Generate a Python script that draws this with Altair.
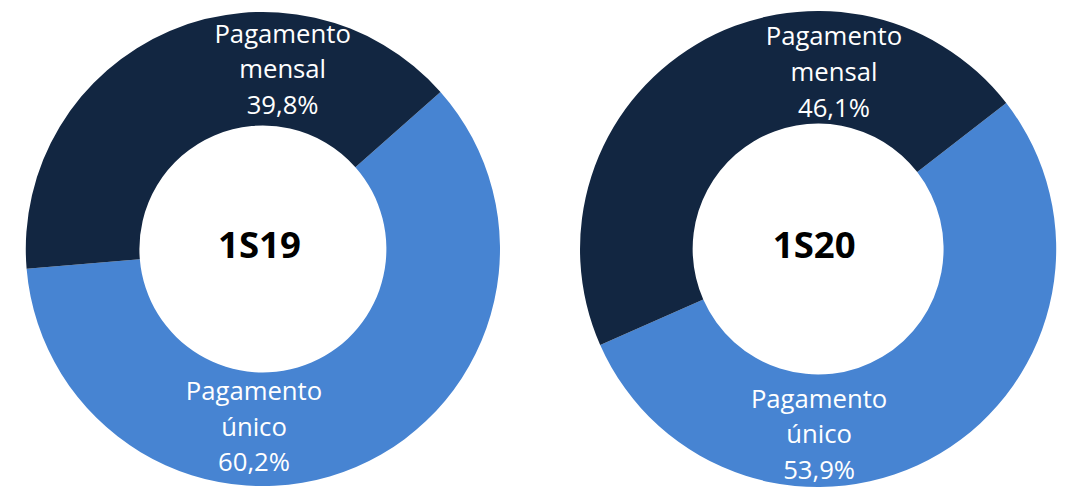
import math
import altair as alt
import pandas as pd

# ---- data ----
categories = ["Pagamento único", "Pagamento mensal"]
periods = ["1S19", "1S20"]
values_1s19 = [60.2, 39.8]
values_1s20 = [53.9, 46.1]
line_labels = [["Pagamento", "único"], ["Pagamento", "mensal"]]

colors = ["#4784D2", "#122641"]
FONT = "Open Sans"

W, H = 516, 476


def fmt(v):
    return f"{v:.1f}".replace(".", ",") + "%"


def donut(period, values, start_deg, outer, inner, pos_unico, pos_mensal, pos_center):
    df = pd.DataFrame({
        "category": categories,
        "value": values,
        "order": list(range(len(categories))),
        "label": [lines + [fmt(v)] for lines, v in zip(line_labels, values)],
        "period": [period] * len(categories),
    })
    start = math.radians(start_deg)
    base = alt.Chart(df)
    arc = base.mark_arc(outerRadius=outer, innerRadius=inner).encode(
        theta=alt.Theta("value:Q", stack=True,
                        scale=alt.Scale(range=[start, start + 2 * math.pi])),
        order=alt.Order("order:Q"),
        color=alt.Color("category:N",
                        scale=alt.Scale(domain=categories, range=colors),
                        legend=None),
    )
    layers = [arc]
    for cat, (px, py) in zip(categories, [pos_unico, pos_mensal]):
        layers.append(
            base.transform_filter(alt.datum.category == cat)
            .mark_text(font=FONT, fontSize=26, color="white", align="center",
                       baseline="alphabetic", lineHeight=36)
            .encode(text="label", x=alt.value(px), y=alt.value(py))
        )
    layers.append(
        base.transform_filter(alt.datum.order == 0)
        .mark_text(font=FONT, fontSize=37, fontWeight="bold", color="black",
                   align="center", baseline="alphabetic")
        .encode(text="period:N", x=alt.value(pos_center[0]), y=alt.value(pos_center[1]))
    )
    return alt.layer(*layers).properties(width=W, height=H)


left = donut("1S19", values_1s19, 48.5, 240, 125,
             (249, 391), (278, 29), (254.5, 247))
right = donut("1S20", values_1s20, 52.2, 241, 127,
              (259, 398.5), (274, 32), (254, 247))

chart = alt.hconcat(left, right, spacing=46).properties(padding=0).configure_view(stroke=None)

chart.save("out.html", embed_options={"renderer": "svg", "actions": False})
